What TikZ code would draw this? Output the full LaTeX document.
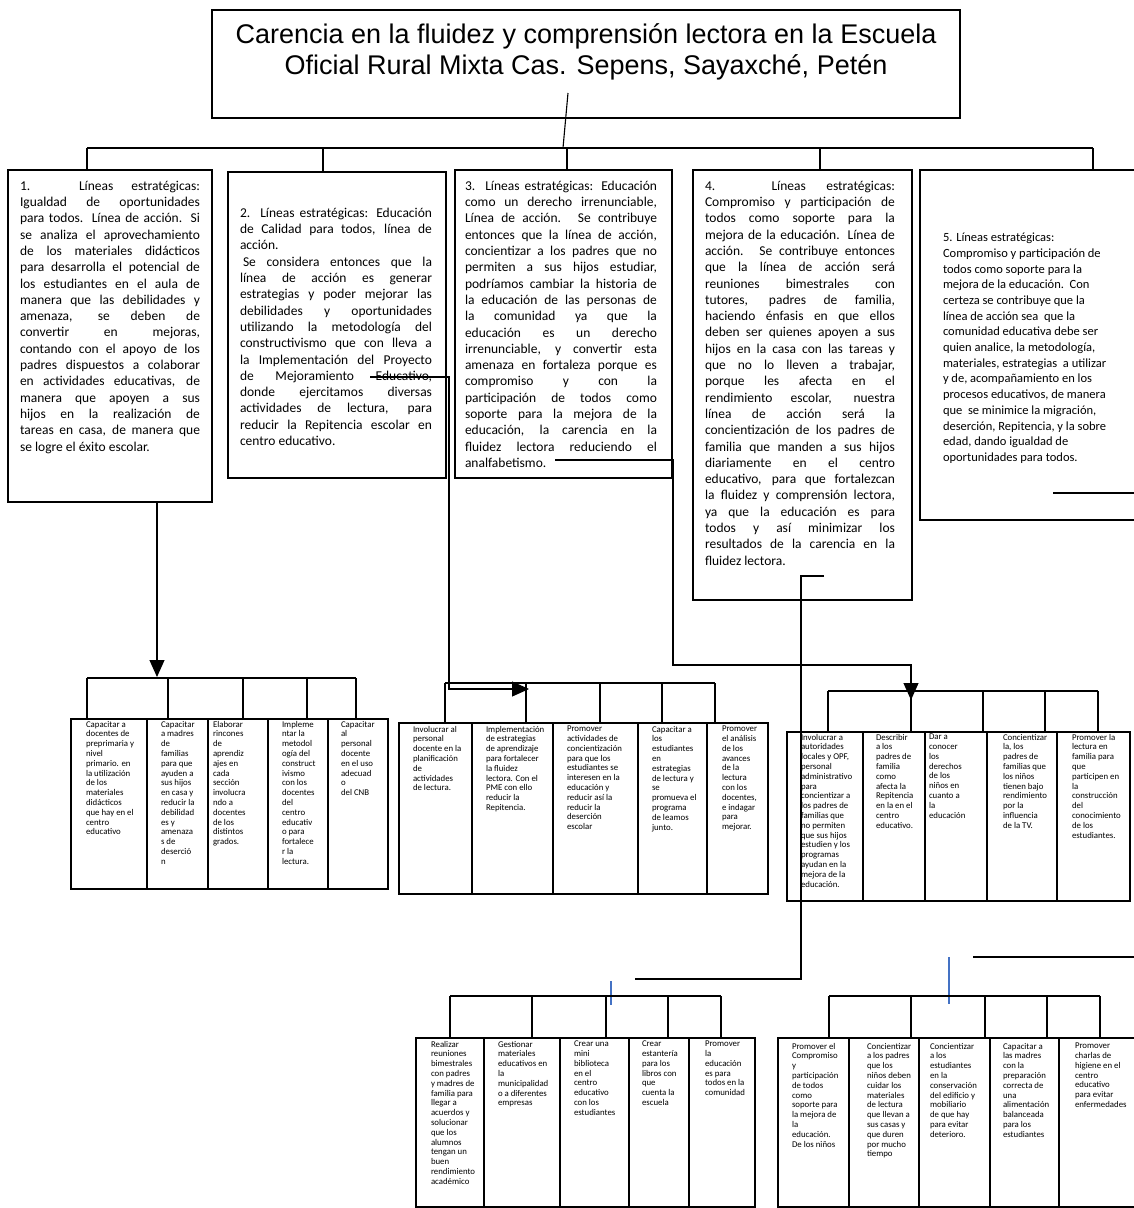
\documentclass[tikz,border=0pt]{standalone}
\usepackage{fontspec}
\setmainfont{Carlito}
\newfontfamily\titulofont{Liberation Sans}
\usetikzlibrary{arrows.meta}
\definecolor{guiaazul}{RGB}{68,114,196}

\begin{document}
\begin{tikzpicture}[x = 1pt, y = -1pt,
    every node/.style = { inner sep = 0, outer sep = 0 },
    caja/.style = { draw, line width = 2.4pt, anchor = north west },
    linea/.style = { line width = 1.1pt },
    flecha/.style = { linea, -{Triangle[length = 17pt, width = 15pt]} },
    guia/.style = { line width = 1.1pt, draw = guiaazul },
    texto/.style = { anchor = north west, align = justify, font = \fontsize{13.5}{16.3}\selectfont },
    chico/.style = { anchor = north west, align = left, font = \fontsize{8.8}{9.8}\selectfont }]

    \useasboundingbox (0,0) rectangle (1134,1208);

    % titulo
    \node [caja, line width = 2pt, minimum width = 748, minimum height = 108] (titulo) at (212,10) {};
    \node [font = \titulofont\fontsize{27}{31}\selectfont, align = center] (titulotxt) at (586,52)
      { Carencia en la fluidez y comprensión lectora en la Escuela \\ Oficial Rural Mixta Cas. Sepens, Sayaxché, Petén };

    % lineas estrategicas
    \node [caja, minimum width = 204, minimum height = 332] (l1) at (8,170) {};
    \node [caja, minimum width = 218, minimum height = 306] (l2) at (228,172) {};
    \node [caja, minimum width = 217, minimum height = 308] (l3) at (455,170) {};
    \node [caja, minimum width = 219, minimum height = 430] (l4) at (693,170) {};
    \node [caja, minimum width = 218, minimum height = 350] (l5) at (920,170) {};

    \node [texto, text width = 180] (t1) at (20,181)
      { 1. Líneas estratégicas: \linebreak Igualdad de oportunidades \linebreak para todos. Línea de acción. Si \linebreak se analiza el aprovechamiento \linebreak de los materiales didácticos \linebreak para desarrolla el potencial de \linebreak los estudiantes en el aula de \linebreak manera que las debilidades y \linebreak amenaza, se deben de \linebreak convertir en mejoras, \linebreak contando con el apoyo de los \linebreak padres dispuestos a colaborar \linebreak en actividades educativas, de \linebreak manera que apoyen a sus \linebreak hijos en la realización de \linebreak tareas en casa, de manera que \linebreak se logre el éxito escolar. };
    \node [texto, text width = 192] (t2) at (240,208)
      { 2. Líneas estratégicas: Educación \linebreak de Calidad para todos, línea de \linebreak acción. \\ \hspace*{3pt}Se considera entonces que la \linebreak línea de acción es generar \linebreak estrategias y poder mejorar las \linebreak debilidades y oportunidades \linebreak utilizando la metodología del \linebreak constructivismo que con lleva a \linebreak la Implementación del Proyecto \linebreak de Mejoramiento Educativo, \linebreak donde ejercitamos diversas \linebreak actividades de lectura, para \linebreak reducir la Repitencia escolar en \linebreak centro educativo. };
    \node [texto, text width = 192] (t3) at (465,181)
      { 3. Líneas estratégicas: Educación \linebreak como un derecho irrenunciable, \linebreak Línea de acción. Se contribuye \linebreak entonces que la línea de acción, \linebreak concientizar a los padres que no \linebreak permiten a sus hijos estudiar, \linebreak podríamos cambiar la historia de \linebreak la educación de las personas de \linebreak la comunidad ya que la \linebreak educación es un derecho \linebreak irrenunciable, y convertir esta \linebreak amenaza en fortaleza porque es \linebreak compromiso y con la \linebreak participación de todos como \linebreak soporte para la mejora de la \linebreak educación, la carencia en la \linebreak fluidez lectora reduciendo el \linebreak analfabetismo. };
    \node [texto, text width = 190] (t4) at (705,181)
      { 4. Líneas estratégicas: \linebreak Compromiso y participación de \linebreak todos como soporte para la \linebreak mejora de la educación. Línea de \linebreak acción. Se contribuye entonces \linebreak que la línea de acción será \linebreak reuniones bimestrales con \linebreak tutores, padres de familia, \linebreak haciendo énfasis en que ellos \linebreak deben ser quienes apoyen a sus \linebreak hijos en la casa con las tareas y \linebreak que no lo lleven a trabajar, \linebreak porque les afecta en el \linebreak rendimiento escolar, nuestra \linebreak línea de acción será la \linebreak concientización de los padres de \linebreak familia que manden a sus hijos \linebreak diariamente en el centro \linebreak educativo, para que fortalezcan \linebreak la fluidez y comprensión lectora, \linebreak ya que la educación es para \linebreak todos y así minimizar los \linebreak resultados de la carencia en la \linebreak fluidez lectora. };
    \node [anchor = north west, align = left, font = \fontsize{12.5}{15.7}\selectfont] (t5) at (943,233)
      { 5. Líneas estratégicas: \\ Compromiso y participación de \\ todos como soporte para la \\ mejora de la educación.\ \ Con \\ certeza se contribuye que la \\ línea de acción sea\ \ que la \\ comunidad educativa debe ser \\ quien analice, la metodología, \\ materiales, estrategias\ \ a utilizar \\ y de, acompañamiento en los \\ procesos educativos, de manera \\ que\ \ se minimice la migración, \\ deserción, Repitencia, y la sobre \\ edad, dando igualdad de \\ oportunidades para todos. };

    % conectores de arriba
    \coordinate (cruce) at (563,148);
    \draw [linea] (568,93) -- (cruce);
    \draw [linea] (87,148) -- (1093,148);
    \foreach \x/\n in {87/l1, 323/l2, 567/l3, 820/l4, 1093/l5}
      \draw [linea] (\x,148) -- (\x,0 |- \n.north);

    % acciones de la linea 1
    \foreach \xa/\xb/\xt/\txt [count = \i] in {
      71/147/86/{Capacitar a\\docentes de\\preprimaria y\\nivel\\primario. en\\la utilización\\de los\\materiales\\didácticos\\que hay en el\\centro\\educativo},
      147/208/161/{Capacitar\\a madres\\de\\familias\\para que\\ayuden a\\sus hijos\\en casa y\\reducir la\\debilidad\\es y\\amenaza\\s de\\deserció\\n},
      208/268/213/{Elaborar\\rincones\\de\\aprendiz\\ajes en\\cada\\sección\\involucra\\ndo a\\docentes\\de los\\distintos\\grados.},
      268/328/282/{Impleme\\ntar la\\metodol\\ogía del\\construct\\ivismo\\con los\\docentes\\del\\centro\\educativ\\o para\\fortalece\\r la\\lectura.},
      328/388/341/{Capacitar\\al\\personal\\docente\\en el uso\\adecuad\\o\\del CNB}}
    {
      \node [caja, minimum width = \xb-\xa, minimum height = 170] (a\i) at (\xa,719) {};
      \node [chico] (ta\i) at (\xt,721) {\txt};
    }
    \draw [flecha] (157,0 |- l1.south) -- (157,677);
    \draw [linea] (87,678) -- (356,678);
    \foreach \x/\i in {87/1, 168/2, 243/3, 307/4, 356/5}
      \draw [linea] (\x,678) -- (\x,0 |- a\i.north);

    % acciones de la linea 2
    \foreach \xa/\xb/\xt/\txt [count = \i] in {
      399/472/413/{Involucrar al\\personal\\docente en la\\planificación\\de\\actividades\\de lectura.},
      472/553/486/{Implementación\\de estrategias\\de aprendizaje\\para fortalecer\\la fluidez\\lectora. Con el\\PME con ello\\reducir la\\Repitencia.},
      553/638/567/{Promover\\actividades de\\concientización\\para que los\\estudiantes se\\interesen en la\\educación y\\reducir así la\\reducir la\\deserción\\escolar},
      638/707/652/{Capacitar a\\los\\estudiantes\\en\\estrategias\\de lectura y\\se\\promueva el\\programa\\de leamos\\junto.},
      707/768/722/{Promover\\el análisis\\de los\\avances\\de la\\lectura\\con los\\docentes,\\e indagar\\para\\mejorar.}}
    {
      \node [caja, minimum width = \xb-\xa, minimum height = 171] (b\i) at (\xa,723) {};
      \node [chico] (tb\i) at (\xt,726) {\txt};
    }
    \draw [flecha] (370,377) -- (449,377) -- (449,689) -- (529,689);
    \draw [linea] (445,683) -- (715,683);
    \foreach \x/\i in {445/1, 526/2, 600/3, 662/4, 715/5}
      \draw [linea] (\x,683) -- (\x,0 |- b\i.north);

    % acciones de la linea 3
    \foreach \xa/\xb/\xt/\txt [count = \i] in {
      787/863/801/{Involucrar a\\autoridades\\locales y OPF,\\personal\\administrativo\\para\\concientizar a\\los padres de\\familias que\\no permiten\\que sus hijos\\estudien y los\\programas\\ayudan en la\\mejora de la\\educación.},
      863/925/876/{Describir\\a los\\padres de\\familia\\como\\afecta la\\Repitencia\\en la en el\\centro\\educativo.},
      925/987/929/{Dar a\\conocer\\los\\derechos\\de los\\niños en\\cuanto a\\la\\educación},
      987/1057/1003/{Concientizar\\la, los\\padres de\\familias que\\los niños\\tienen bajo\\rendimiento\\por la\\influencia\\de la TV.},
      1057/1130/1072/{Promover la\\lectura en\\familia para\\que\\participen en\\la\\construcción\\del\\conocimiento\\de los\\estudiantes.}}
    {
      \node [caja, minimum width = \xb-\xa, minimum height = 169] (c\i) at (\xa,732) {};
      \node [chico] (tc\i) at (\xt,734) {\txt};
    }
    \draw [flecha] (555,460) -- (673,460) -- (673,665) -- (911,665) -- (911,700);
    \draw [linea] (828,691) -- (1098,691);
    \foreach \x/\i in {828/1, 911/2, 983/3, 1045/4, 1098/5}
      \draw [linea] (\x,691) -- (\x,0 |- c\i.north);

    % acciones de la linea 4
    \foreach \xa/\xb/\xt/\txt [count = \i] in {
      416/484/431/{Realizar\\reuniones\\bimestrales\\con padres\\y madres de\\familia para\\llegar a\\acuerdos y\\solucionar\\que los\\alumnos\\tengan un\\buen\\rendimiento\\académico},
      484/560/498/{Gestionar\\materiales\\educativos en\\la\\municipalidad\\o a diferentes\\empresas},
      560/629/574/{Crear una\\mini\\biblioteca\\en el\\centro\\educativo\\con los\\estudiantes},
      629/689/642/{Crear\\estantería\\para los\\libros con\\que\\cuenta la\\escuela},
      689/755/705/{Promover\\la\\educación\\es para\\todos en la\\comunidad}}
    {
      \node [caja, minimum width = \xb-\xa, minimum height = 169] (d\i) at (\xa,1038) {};
      \node [chico] (td\i) at (\xt,1041) {\txt};
    }
    \draw [linea] (824,576) -- (801,576) -- (801,979) -- (635,979);
    \draw [guia] (611,981) -- (611,1005);
    \draw [linea] (450,996) -- (721,996);
    \foreach \x/\i in {450/1, 532/2, 606/3, 668/4, 721/5}
      \draw [linea] (\x,996) -- (\x,0 |- d\i.north);

    % acciones de la linea 5
    \foreach \xa/\xb/\xt/\txt [count = \i] in {
      778/849/792/{Promover el\\Compromiso\\y\\participación\\de todos\\como\\soporte para\\la mejora de\\la\\educación.\\De los niños},
      849/919/867/{Concientizar\\a los padres\\que los\\niños deben\\cuidar los\\materiales\\de lectura\\que llevan a\\sus casas y\\que duren\\por mucho\\tiempo},
      919/990/930/{Concientizar\\a los\\estudiantes\\en la\\conservación\\del edificio y\\mobiliario\\de que hay\\para evitar\\deterioro.},
      990/1059/1003/{Capacitar a\\las madres\\con la\\preparación\\correcta de\\una\\alimentación\\balanceada\\para los\\estudiantes},
      1059/1138/1075/{Promover\\charlas de\\higiene en el\\centro\\educativo\\para evitar\\enfermedades}}
    {
      \node [caja, minimum width = \xb-\xa, minimum height = 169] (e\i) at (\xa,1038) {};
      \node [chico] (te\i) at (\xt,1043) {\txt};
    }
    \draw [linea] (1053,493) -- (1136,493);
    \draw [linea] (973,957) -- (1136,957);
    \draw [guia] (949,957) -- (949,1004);
    \draw [linea] (829,996) -- (1100,996);
    \foreach \x/\i in {829/1, 911/2, 985/3, 1047/4, 1100/5}
      \draw [linea] (\x,996) -- (\x,0 |- e\i.north);

\end{tikzpicture}
\end{document}
